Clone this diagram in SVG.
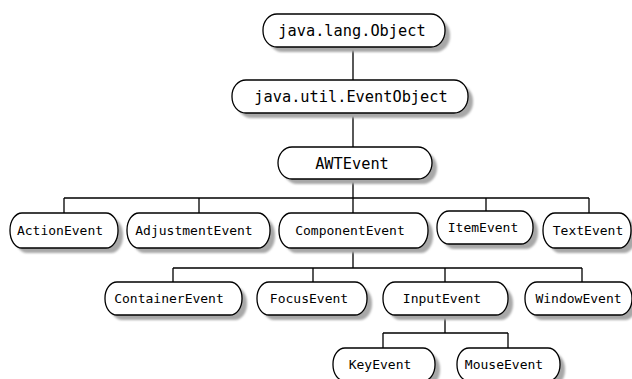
<svg xmlns="http://www.w3.org/2000/svg" width="632" height="379" viewBox="0 0 632 379">
<defs>
<filter id="sh" x="-10%" y="-30%" width="130%" height="180%"><feGaussianBlur stdDeviation="1.2"/></filter>
</defs>
<style>
.s{fill:#a8a8a8;filter:url(#sh)}
.b{fill:#fff;stroke:#000;stroke-width:1.3}
.t{font-family:"DejaVu Sans Mono","Liberation Mono",monospace;font-size:13px;fill:#000;text-anchor:middle}
.L{font-size:15.3px}
.c{stroke:#000;stroke-width:1.3;fill:none}
</style>
<rect width="632" height="379" fill="#fff"/>
<g id="connectors">
<path class="c" d="M353 47V80M353 113V147M353 179V198M64 198H589M64 198V213M199 198V213M353 198V213M486 198V211M589 198V213M353 248V268M173 268H582M173 268V282M313 268V282M445 268V282M582 268V282M445 315V333M383 333H508M383 333V348M508 333V348"/>
</g>
<g id="n-object"><rect class="s" x="268" y="19" width="182" height="33" rx="14" ry="16"/><rect class="b" x="263" y="14" width="182" height="33" rx="14" ry="16"/><text class="t L" x="352" y="36">java.lang.Object</text></g>
<g id="n-eventobject"><rect class="s" x="237" y="85" width="236" height="33" rx="14" ry="16"/><rect class="b" x="232" y="80" width="236" height="33" rx="14" ry="16"/><text class="t L" x="351" y="102">java.util.EventObject</text></g>
<g id="n-awtevent"><rect class="s" x="283" y="152" width="154" height="32" rx="14" ry="16"/><rect class="b" x="278" y="147" width="154" height="32" rx="14" ry="16"/><text class="t L" x="352" y="168.5">AWTEvent</text></g>
<g id="n-action"><rect class="s" x="15" y="218" width="108" height="35" rx="12" ry="17"/><rect class="b" x="10" y="213" width="108" height="35" rx="12" ry="17"/><text class="t" x="60" y="235">ActionEvent</text></g>
<g id="n-adjust"><rect class="s" x="132" y="218" width="143" height="35" rx="12" ry="17"/><rect class="b" x="127" y="213" width="143" height="35" rx="12" ry="17"/><text class="t" x="194" y="235">AdjustmentEvent</text></g>
<g id="n-component"><rect class="s" x="284" y="218" width="149" height="35" rx="12" ry="17"/><rect class="b" x="279" y="213" width="149" height="35" rx="12" ry="17"/><text class="t" x="350" y="235">ComponentEvent</text></g>
<g id="n-item"><rect class="s" x="442" y="216" width="96" height="33" rx="12" ry="16"/><rect class="b" x="437" y="211" width="96" height="33" rx="12" ry="16"/><text class="t" x="483" y="232">ItemEvent</text></g>
<g id="n-text"><rect class="s" x="548" y="218" width="88" height="35" rx="12" ry="17"/><rect class="b" x="543" y="213" width="88" height="35" rx="12" ry="17"/><text class="t" x="588" y="235">TextEvent</text></g>
<g id="n-container"><rect class="s" x="110" y="287" width="137" height="33" rx="12" ry="16"/><rect class="b" x="105" y="282" width="137" height="33" rx="12" ry="16"/><text class="t" x="169" y="303">ContainerEvent</text></g>
<g id="n-focus"><rect class="s" x="262" y="287" width="110" height="33" rx="12" ry="16"/><rect class="b" x="257" y="282" width="110" height="33" rx="12" ry="16"/><text class="t" x="309" y="303">FocusEvent</text></g>
<g id="n-input"><rect class="s" x="388" y="287" width="125" height="33" rx="12" ry="16"/><rect class="b" x="383" y="282" width="125" height="33" rx="12" ry="16"/><text class="t" x="442" y="303">InputEvent</text></g>
<g id="n-window"><rect class="s" x="530" y="287" width="107" height="33" rx="12" ry="16"/><rect class="b" x="525" y="282" width="107" height="33" rx="12" ry="16"/><text class="t" x="578.5" y="303">WindowEvent</text></g>
<g id="n-key"><rect class="s" x="338" y="353" width="102" height="33" rx="12" ry="16"/><rect class="b" x="333" y="348" width="102" height="33" rx="12" ry="16"/><text class="t" x="380" y="369">KeyEvent</text></g>
<g id="n-mouse"><rect class="s" x="462" y="353" width="103" height="33" rx="12" ry="16"/><rect class="b" x="457" y="348" width="103" height="33" rx="12" ry="16"/><text class="t" x="504" y="369">MouseEvent</text></g>
</svg>
